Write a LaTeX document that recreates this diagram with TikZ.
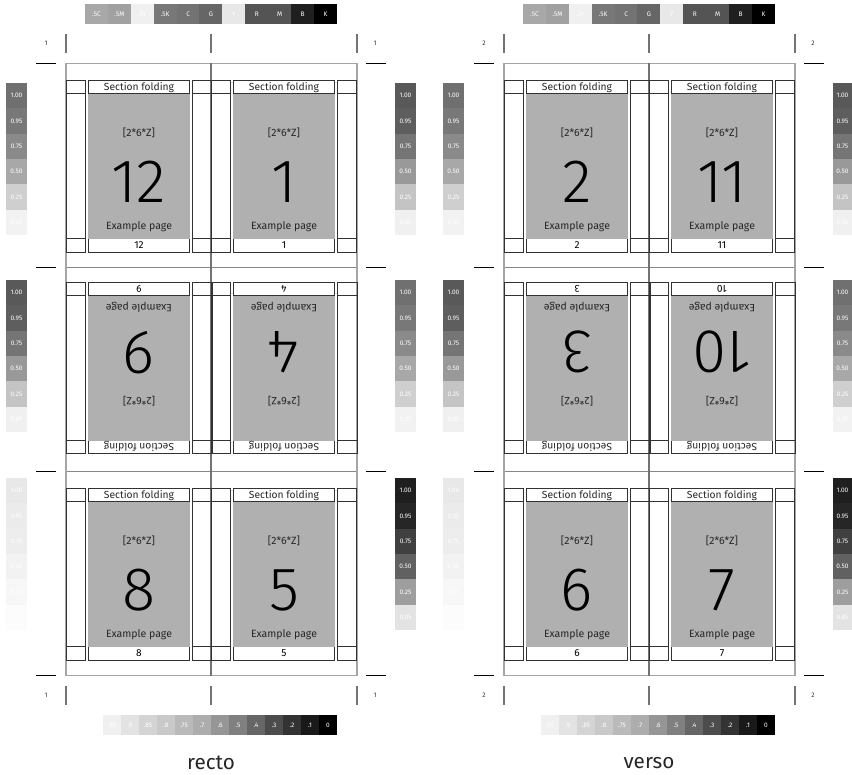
\documentclass[tikz,border=0pt]{standalone}
\usepackage{fontspec}
\setmainfont{Fira Sans}
\setsansfont{Fira Sans}
\newfontfamily\bignumfont{Fira Sans Light}
\usetikzlibrary{positioning}
\definecolor{FoldLine}{RGB}{50, 50, 50}
\definecolor{SheetLine}{RGB}{135, 135, 135}
\definecolor{SpineLine}{RGB}{115, 115, 115}
\definecolor{PageGray}{RGB}{176, 176, 176}
\newcommand{\cyanramp}{56/1.00,53/0.95,46/0.75,34/0.50,19/0.25,5/0.05}
\newcommand{\magentaramp}{65/1.00,63/0.95,54/0.75,40/0.50,23/0.25,6/0.05}
\newcommand{\yellowramp}{9/1.00,8/0.95,7/0.75,5/0.50,3/0.25,1/0.05}
\newcommand{\blackramp}{88/1.00,85/0.95,75/0.75,62/0.50,38/0.25,11/0.05}
\tikzset{
    swatch/.style={inner sep=0pt, text=white, font=\fontsize{4.9}{6}\selectfont},
    pagebox/.style={draw=FoldLine, fill=white, line width=0.7pt, inner sep=0pt, minimum width=75.5pt, minimum height=10pt, font=\fontsize{7.6}{9}\selectfont, transform shape},
    pagetext/.style={inner sep=0pt, font=\fontsize{7.9}{9}\selectfont, text=black!85, transform shape},
    bignum/.style={inner sep=0pt, font=\bignumfont\fontsize{46}{50}\selectfont, transform shape},
    stripbox/.style={draw=FoldLine, line width=0.7pt},
    cropmark/.style={draw=black, line width=0.7pt},
    tickmark/.style={draw=SpineLine, line width=1.1pt},
    sheetno/.style={inner sep=0pt, font=\fontsize{5}{6}\selectfont, text=black!80}
}
\newcommand{\sidebar}[5]{
    \foreach \tint/\level [count=\n from 0] in #5 {
        \node[swatch, fill=black!\tint, minimum width=#3*0.75pt, minimum height=19.1pt] (#1-\n) at ({#2+#3/2},{#4+12.7+\n*25.35}) {\level};
    }
}
\newcommand{\foldpage}[5]{
    \begin{scope}[shift={(#2,#3)}, rotate=#4]
        \foreach \ax in {-73,53.5} {
            \draw[stripbox] (\ax,-85.5) rectangle ++(19.2,13);
            \draw[stripbox] (\ax,-72.5) rectangle ++(19.2,145);
            \draw[stripbox] (\ax,72.5) rectangle ++(19.2,13.5);
        }
        \node[pagebox] (#1head) at (0,-79) {};
        \node[pagebox] (#1foot) at (0,79.3) {#5};
        \node[fill=PageGray, inner sep=0pt, minimum width=76.5pt, minimum height=108.75pt, transform shape] (#1area) at (0,0) {};
        \node[pagetext, font=\fontsize{7.7}{9}\selectfont] (#1fold) at (0,-78.7) {Section folding};
        \node[pagetext] (#1sig) at (0,-33) {[2*6*Z]};
        \node[bignum] (#1num) at (0,16) {#5};
        \node[pagetext] (#1ex) at (0,60.5) {Example page};
    \end{scope}
}

\begin{document}
\begin{tikzpicture}[x=0.75pt, y=-0.75pt]
    \useasboundingbox (0,0) rectangle (852,774);
    \foreach \sx/\sheet/\pa/\pb/\pc/\pd/\pe/\pf/\side in {0/1/12/1/9/4/8/5/recto, 438/2/2/11/3/10/6/7/verso} {
        \begin{scope}[xshift=\sx*0.75pt]
            \foreach \ry in {267.5,471.5} {
                \draw[draw=SheetLine, line width=0.8pt] (66,\ry) -- (357,\ry);
            }
            \draw[draw=SheetLine!75, line width=0.8pt] (66,63.5) rectangle (357,675.5);
            \draw[draw=SpineLine, line width=1.1pt] (211,63.5) -- (211,675.5);

            \foldpage{p\pa}{139}{166}{0}{\pa}
            \foldpage{p\pb}{284}{166}{0}{\pb}
            \foldpage{p\pc}{139}{368.2}{180}{\pc}
            \foldpage{p\pd}{284}{368.2}{180}{\pd}
            \foldpage{p\pe}{139}{574.2}{0}{\pe}
            \foldpage{p\pf}{284}{574.2}{0}{\pf}

            \foreach \ry in {63.5,267.5,471.5,675.5} {
                \draw[cropmark] (36,\ry) -- (56,\ry);
                \draw[cropmark] (366,\ry) -- (386,\ry);
            }
            \foreach \tx in {66,211,357} {
                \draw[tickmark] (\tx,34) -- (\tx,53);
                \draw[tickmark] (\tx,686) -- (\tx,705);
            }
            \node[sheetno] (no\sheet a) at (46,43.5) {\sheet};
            \node[sheetno] (no\sheet b) at (375,43.5) {\sheet};
            \node[sheetno] (no\sheet c) at (46,695.5) {\sheet};
            \node[sheetno] (no\sheet d) at (375,695.5) {\sheet};

            \foreach \tint/\level [count=\n from 0] in {34/.5C,37/.5M,6/.5Y,53/.5K,55/C,60/G,9/Y,67/R,67/M,88/B,100/K} {
                \node[swatch, fill=black!\tint, minimum width=17.3pt, minimum height=15pt] (top\sheet-\n) at ({96.5+\n*22.9},14) {\level};
            }
            \foreach \tint/\level [count=\n from 0] in {6/.95,11/.9,17/.85,21/.8,27/.75,32/.7,41/.6,50/.5,60/.4,70/.3,80/.2,90/.1,100/0} {
                \node[swatch, fill=black!\tint, minimum width=13.6pt, minimum height=15pt] (low\sheet-\n) at ({112+\n*18},725) {\level};
            }
            \node[inner sep=0pt, font=\fontsize{15.5}{17}\selectfont, text=black!85] (\side) at (211,763) {\side};
        \end{scope}
    }
    \sidebar{lca}{6}{21}{83}{\cyanramp}
    \sidebar{lma}{6}{21}{280}{\magentaramp}
    \sidebar{lya}{6}{21}{478}{\yellowramp}
    \sidebar{rma}{395}{21}{83}{\magentaramp}
    \sidebar{rca}{395}{21}{280}{\cyanramp}
    \sidebar{rka}{395}{21}{478}{\blackramp}
    \sidebar{lcb}{443}{21}{83}{\cyanramp}
    \sidebar{lmb}{443}{21}{280}{\magentaramp}
    \sidebar{lyb}{443}{21}{478}{\yellowramp}
    \sidebar{rmb}{833}{19}{83}{\magentaramp}
    \sidebar{rcb}{833}{19}{280}{\cyanramp}
    \sidebar{rkb}{833}{19}{478}{\blackramp}
\end{tikzpicture}
\end{document}
